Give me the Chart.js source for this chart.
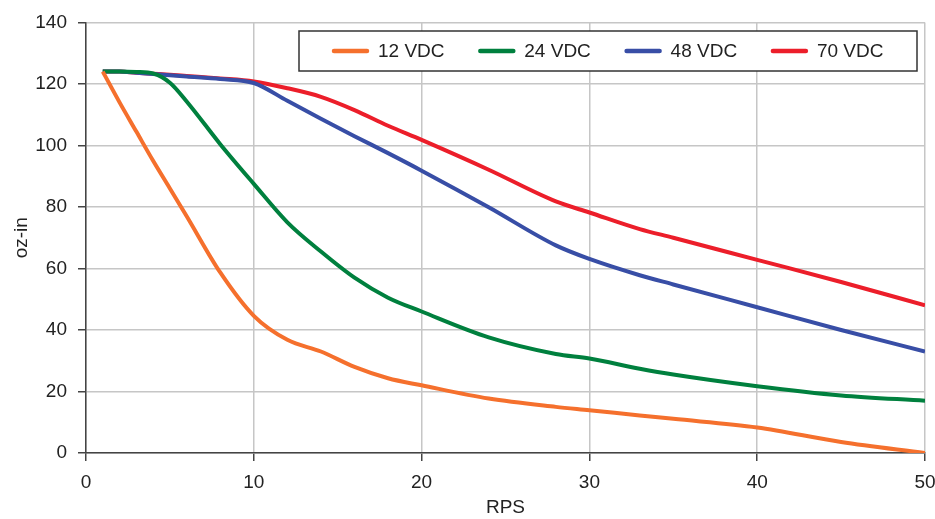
<!DOCTYPE html>
<html>
<head>
<meta charset="utf-8">
<script src="https://cdn.jsdelivr.net/npm/chart.js@4/dist/chart.umd.min.js"></script>
<style>
  html, body { margin: 0; padding: 0; background: #fff; }
  #wrap { width: 935px; height: 519px; }
</style>
</head>
<body>
<div id="wrap"><canvas id="myChart" width="935" height="519"></canvas></div>
<script>
const rps = [1, 2, 3, 4, 5, 6, 8, 10, 12, 14, 16, 18, 20, 24, 28, 30, 33, 35, 40, 45, 50];

// torque in oz-in for each supply voltage
const vdc12 = [124, 114, 104.5, 95, 86, 77, 58.7, 44.6, 36.8, 33, 28, 24.3, 22, 17.7, 15, 13.9, 12.2, 11.1, 8.3, 3.6, 0];
const vdc24 = [124, 124, 123.9, 123.4, 120.4, 114.3, 100.4, 87.5, 75, 65.5, 57, 50.5, 46, 37.6, 32.2, 30.7, 27.4, 25.5, 21.7, 18.7, 17];
const vdc48 = [124, 124, 123.6, 123.2, 122.8, 122.4, 121.6, 120.3, 114.5, 108.7, 103, 97.5, 91.8, 79.9, 67.5, 63.1, 57.8, 54.8, 47.4, 40, 33];
const vdc70 = [124, 124, 123.6, 123.3, 123, 122.6, 121.8, 120.8, 118.6, 115.8, 111.5, 106.4, 101.8, 92.1, 81.8, 78.2, 72.8, 70, 62.8, 55.6, 48];

const seriesNames = ["12 VDC", "24 VDC", "48 VDC", "70 VDC"];
const seriesColors = ["rgb(245,112,45)", "rgb(0,128,62)", "rgb(56,78,166)", "rgb(236,30,42)"];

const xTicks = [0, 10, 20, 30, 40, 50];
const yTicks = [0, 20, 40, 60, 80, 100, 120, 140];

const font = "'Liberation Sans', Arial, Helvetica, sans-serif";

function toPoints(values) {
    return rps.map((x, i) => ({ x: x, y: values[i] }));
}

// legend drawn as a framed box inside the plot, like the original
const boxLegend = {
    id: "boxLegend",
    afterDraw(chart) {
        const ctx = chart.ctx;
        const left = 299, top = 31, w = 618, h = 40;
        ctx.save();
        ctx.fillStyle = "#fff";
        ctx.fillRect(left, top, w, h);
        ctx.strokeStyle = "#333";
        ctx.lineWidth = 1.5;
        ctx.strokeRect(left, top, w, h);
        ctx.font = "19px " + font;
        ctx.textBaseline = "middle";
        ctx.textAlign = "left";
        const cy = top + h / 2;
        chart.data.datasets.forEach((ds, i) => {
            const x0 = 334 + i * 146.3;
            ctx.strokeStyle = ds.borderColor;
            ctx.lineWidth = 4.5;
            ctx.lineCap = "round";
            ctx.beginPath();
            ctx.moveTo(x0, cy);
            ctx.lineTo(x0 + 33, cy);
            ctx.stroke();
            ctx.fillStyle = "#222";
            ctx.fillText(ds.label, x0 + 44, cy + 1);
        });
        ctx.restore();
    }
};

chart = new Chart(document.getElementById("myChart"), {
    type: "scatter",
    data: {
        datasets: [vdc12, vdc24, vdc48, vdc70].map((vals, i) => ({
            label: seriesNames[i],
            data: toPoints(vals),
            showLine: true,
            borderColor: seriesColors[i],
            backgroundColor: seriesColors[i],
            borderWidth: 4,
            pointRadius: 0,
            cubicInterpolationMode: "monotone"
        }))
    },
    options: {
        responsive: false,
        animation: false,
        devicePixelRatio: 1,
        layout: { padding: { top: 22, right: 0, bottom: 0, left: 0 } },
        plugins: {
            legend: { display: false },
            tooltip: { enabled: false }
        },
        scales: {
            x: {
                type: "linear",
                min: 0,
                max: 50,
                afterFit: s => { s.height = 66; s.paddingRight = 10; s.paddingLeft = 0; },
                afterBuildTicks: s => { s.ticks = xTicks.map(v => ({ value: v })); },
                grid: { color: "#c6c6c6", lineWidth: 1.5, tickColor: "#444", tickLength: 8 },
                border: { color: "#444", width: 1.5 },
                ticks: { color: "#222", padding: 10, font: { family: font, size: 19 }, maxRotation: 0 },
                title: { display: true, text: "RPS", color: "#222", font: { family: font, size: 19 }, padding: { top: 0, bottom: 0 } }
            },
            y: {
                type: "linear",
                min: 0,
                max: 140,
                afterFit: s => { s.width = 86; },
                afterBuildTicks: s => { s.ticks = yTicks.map(v => ({ value: v })); },
                grid: { color: "#c6c6c6", lineWidth: 1.5, tickColor: "#444", tickLength: 8 },
                border: { color: "#444", width: 1.5 },
                ticks: { color: "#222", padding: 11, font: { family: font, size: 19 } },
                title: { display: true, text: "oz-in", color: "#222", font: { family: font, size: 19 }, padding: { top: 10, bottom: 0 } }
            }
        }
    },
    plugins: [boxLegend]
});
</script>
</body>
</html>
